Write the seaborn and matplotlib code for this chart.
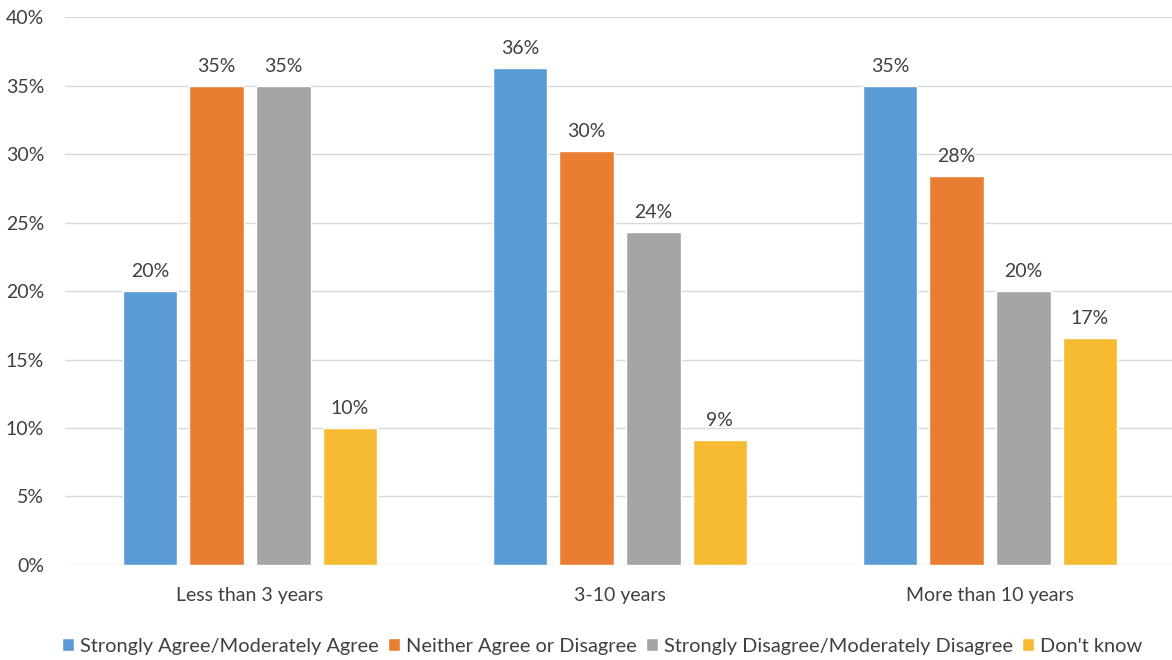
import pandas as pd
import seaborn as sns
import matplotlib.pyplot as plt
from matplotlib.ticker import FuncFormatter

# Values (percent)
groups = ['Less than 3 years', '3-10 years', 'More than 10 years']
responses = ['Strongly Agree/Moderately Agree', 'Neither Agree or Disagree',
             'Strongly Disagree/Moderately Disagree', "Don't know"]
agree = [20.0, 36.3, 35.0]
neither = [35.0, 30.2, 28.4]
disagree = [35.0, 24.3, 20.0]
dont_know = [10.0, 9.1, 16.6]
colors = ['#5B9BD5', '#E97D31', '#A5A5A5', '#F6BB33']

rows = []
for resp, vals in zip(responses, [agree, neither, disagree, dont_know]):
    for g, v in zip(groups, vals):
        rows.append({'Group': g, 'Response': resp, 'Value': v})
df = pd.DataFrame(rows)

sns.set_style('white')
plt.rcParams['font.family'] = ['Lato', 'DejaVu Sans']
text_color = '#404040'
fs = 14

fig = plt.figure(figsize=(11.72, 6.6), dpi=100)
ax = fig.add_axes([0.0555, 0.144, 0.947, 0.830])

sns.barplot(data=df, x='Group', y='Value', hue='Response', order=groups,
            hue_order=responses, palette=colors, width=0.72, gap=0.18,
            saturation=1, ax=ax, legend=True)

for cont in ax.containers:
    ax.bar_label(cont, labels=[f'{v:.0f}%' for v in cont.datavalues],
                 padding=8, fontsize=fs, color=text_color)

ax.set_ylim(0, 40)
ax.set_yticks(range(0, 41, 5))
ax.yaxis.set_major_formatter(FuncFormatter(lambda v, p: f'{v:.0f}%'))
ax.grid(axis='y', color='#D9D9D9', linewidth=1)
ax.set_axisbelow(True)
for s in ax.spines.values():
    s.set_visible(False)
ax.tick_params(axis='both', length=0, labelsize=fs, colors=text_color)
ax.tick_params(axis='x', pad=16)
ax.tick_params(axis='y', pad=15)
ax.set_xlabel('')
ax.set_ylabel('')

sns.move_legend(ax, 'center', bbox_to_anchor=(0.484, -0.148), ncol=4,
                frameon=False, title=None, fontsize=14.4, handlelength=0.6,
                handleheight=0.6, handletextpad=0.3, columnspacing=0.45)
for t in ax.get_legend().get_texts():
    t.set_color(text_color)

fig.savefig('out.png', dpi=100)
